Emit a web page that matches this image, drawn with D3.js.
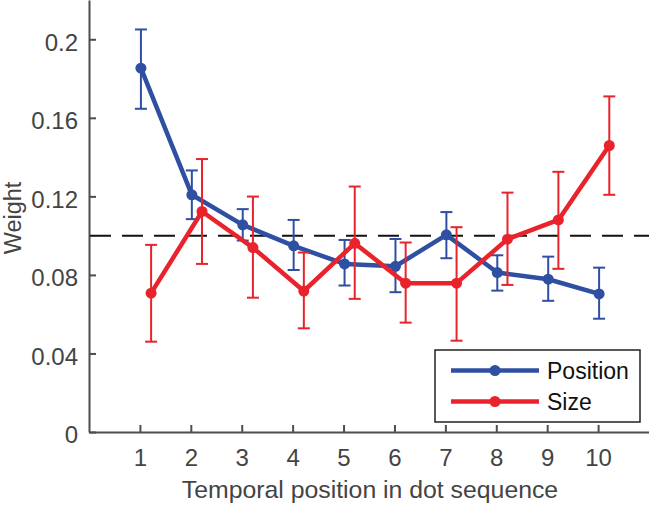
<!DOCTYPE html>
<html>
<head>
<meta charset="utf-8">
<script src="https://cdn.jsdelivr.net/npm/d3@7"></script>
<style>
  html, body { margin: 0; padding: 0; background: #fff; }
  svg { display: block; }
  text { font-family: "Liberation Sans", Arial, Helvetica, sans-serif; }
</style>
</head>
<body>
<svg id="chart" width="649" height="505"></svg>
<script>
// ---- data ----
const positions = [1, 2, 3, 4, 5, 6, 7, 8, 9, 10];
const positionWeight = [0.1853, 0.1208, 0.1055, 0.0948, 0.0856, 0.0844, 0.1004, 0.0812, 0.0778, 0.0703];
const positionLow    = [0.1646, 0.1084, 0.0975, 0.0825, 0.0746, 0.0712, 0.0885, 0.0720, 0.0668, 0.0577];
const positionHigh   = [0.2050, 0.1332, 0.1135, 0.1080, 0.0978, 0.0983, 0.1120, 0.0900, 0.0893, 0.0837];
const sizeWeight = [0.0707, 0.1123, 0.0939, 0.0718, 0.0961, 0.0758, 0.0758, 0.0982, 0.1080, 0.1459];
const sizeLow    = [0.0460, 0.0856, 0.0684, 0.0528, 0.0678, 0.0557, 0.0465, 0.0749, 0.0831, 0.1208];
const sizeHigh   = [0.0953, 0.1390, 0.1199, 0.0914, 0.1250, 0.0965, 0.1043, 0.1219, 0.1325, 0.1709];
const yTicks = [0, 0.04, 0.08, 0.12, 0.16, 0.2];
const yTickLabels = ["0", "0.04", "0.08", "0.12", "0.16", "0.2"];
const chance = 0.1;
const seriesNames = ["Position", "Size"];
const xLabel = "Temporal position in dot sequence";
const yLabel = "Weight";

// ---- layout ----
const mLeft = 89, mRight = 649, mTop = 0, mBottom = 432;
const blue = "#2F4FA2", red = "#E8232B";
const axisColor = "#4d4d4d", textColor = "#444";
const fontSize = 24;

const svg = d3.select("#chart");
const x = d3.scaleLinear().domain([0, 11]).range([mLeft, mRight]);
const y = d3.scaleLinear().domain([0, 0.22]).range([mBottom, mTop]);

// axes (MATLAB style: inward ticks, no box)
const yAxis = d3.axisLeft(y).tickValues(yTicks)
  .tickFormat((d, i) => yTickLabels[i]).tickSizeInner(-7).tickSizeOuter(0).tickPadding(11);
const gy = svg.append("g").attr("transform", `translate(${mLeft},0)`).call(yAxis);
const xAxis = d3.axisBottom(x).tickValues(positions).tickFormat(d3.format("d"))
  .tickSizeInner(-7).tickSizeOuter(0).tickPadding(17);
const gx = svg.append("g").attr("transform", `translate(0,${mBottom})`).call(xAxis);
[gx, gy].forEach(g => {
  g.select(".domain").attr("stroke", axisColor).attr("stroke-width", 2);
  g.selectAll(".tick line").attr("stroke", axisColor).attr("stroke-width", 2);
  g.selectAll(".tick text").attr("fill", textColor).attr("font-size", fontSize)
    .style("font-family", '"Liberation Sans", Arial, sans-serif');
});
gy.selectAll(".tick text").attr("dy", "0.45em");
gx.selectAll(".tick text").attr("dy", "0.71em");

// axis labels
svg.append("text").attr("x", (x(1) + x(10)) / 2 + 1).attr("y", 498)
  .attr("text-anchor", "middle").attr("font-size", 24.8).attr("fill", textColor).text(xLabel);
svg.append("text").attr("transform", `translate(21,${y(0.11) + 2}) rotate(-90)`)
  .attr("text-anchor", "middle").attr("font-size", 23.5).attr("fill", textColor).text(yLabel);

// chance line
svg.append("line").attr("x1", mLeft).attr("x2", mRight).attr("y1", y(chance)).attr("y2", y(chance))
  .attr("stroke", "#111").attr("stroke-width", 2).attr("stroke-dasharray", "21,11")
  .attr("stroke-dashoffset", -1);

function drawSeries(vals, lo, hi, color, offset) {
  const pts = positions.map((p, i) => ({ x: p + offset, v: vals[i], lo: lo[i], hi: hi[i] }));
  const g = svg.append("g");
  const cap = 6;
  pts.forEach(d => {
    g.append("line").attr("x1", x(d.x)).attr("x2", x(d.x)).attr("y1", y(d.lo)).attr("y2", y(d.hi))
      .attr("stroke", color).attr("stroke-width", 2);
    [d.lo, d.hi].forEach(v => g.append("line").attr("x1", x(d.x) - cap).attr("x2", x(d.x) + cap)
      .attr("y1", y(v)).attr("y2", y(v)).attr("stroke", color).attr("stroke-width", 2));
  });
  g.append("path").datum(pts)
    .attr("d", d3.line().x(d => x(d.x)).y(d => y(d.v)))
    .attr("fill", "none").attr("stroke", color).attr("stroke-width", 4.5).attr("stroke-linejoin", "round");
  g.selectAll("circle").data(pts).join("circle")
    .attr("cx", d => x(d.x)).attr("cy", d => y(d.v)).attr("r", 5.5).attr("fill", color);
}
drawSeries(positionWeight, positionLow, positionHigh, blue, 0.02);
drawSeries(sizeWeight, sizeLow, sizeHigh, red, 0.22);

// legend
const lg = svg.append("g");
lg.append("rect").attr("x", 435).attr("y", 350).attr("width", 205).attr("height", 72)
  .attr("fill", "#fff").attr("stroke", "#222").attr("stroke-width", 1.5);
[blue, red].forEach((c, i) => {
  const cy = 370.5 + i * 31;
  lg.append("line").attr("x1", 451).attr("x2", 539).attr("y1", cy).attr("y2", cy)
    .attr("stroke", c).attr("stroke-width", 4.5);
  lg.append("circle").attr("cx", 495).attr("cy", cy).attr("r", 5.5).attr("fill", c);
  lg.append("text").attr("x", 547).attr("y", cy + 8.5).attr("font-size", 23)
    .attr("fill", "#111").text(seriesNames[i]);
});
</script>
</body>
</html>
